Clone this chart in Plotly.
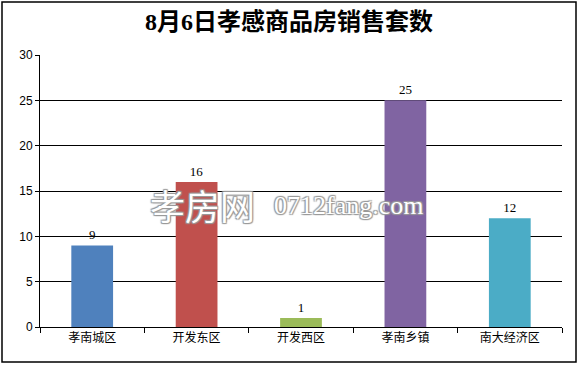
import plotly.graph_objects as go

categories = ["孝南城区", "开发东区", "开发西区", "孝南乡镇", "南大经济区"]
values = [9, 16, 1, 25, 12]
colors = ["#4F81BD", "#C0504D", "#9BBB59", "#8064A2", "#4BACC6"]
y_ticks = [0, 5, 10, 15, 20, 25, 30]

W, H = 578, 365
L, R, T, B = 40, 16, 55, 38
pw, ph = W - L - R, H - T - B

def px2x(px):
    return (px - L) / pw

def py2y(py):
    return (H - B - py) / ph

fig = go.Figure(go.Bar(
    x=categories, y=values, marker=dict(color=colors, line=dict(width=0)),
    text=[str(v) for v in values], textposition="outside", cliponaxis=False,
    textfont=dict(family="Liberation Serif, Times New Roman, serif", size=13, color="black"),
    width=0.4,
))

fig.update_layout(
    width=W, height=H, margin=dict(l=L, r=R, t=T, b=B),
    paper_bgcolor="white", plot_bgcolor="white", showlegend=False,
    title=dict(text="<b>8月6日孝感商品房销售套数</b>", x=0.5, xanchor="center", y=1 - 22 / H, yanchor="middle",
               font=dict(family="Liberation Serif, Noto Sans CJK SC, serif", size=24, color="black")),
    xaxis=dict(type="category", tickson="boundaries", ticks="outside", ticklen=5, tickcolor="black",
               showline=True, linecolor="black", linewidth=1, showgrid=False,
               tickfont=dict(family="Noto Sans CJK SC, sans-serif", size=12, color="black")),
    yaxis=dict(range=[0, 30], tickvals=y_ticks, ticks="outside", ticklen=4, tickcolor="black",
               showline=True, linecolor="black", linewidth=1, showgrid=True, gridcolor="black", gridwidth=1,
               zeroline=False,
               tickfont=dict(family="Liberation Sans, Arial, sans-serif", size=12, color="black")),
    bargap=0.6,
)

fig.add_shape(type="rect", xref="paper", yref="paper",
              x0=px2x(2), x1=px2x(576), y0=py2y(362), y1=py2y(2),
              line=dict(color="black", width=1.5), layer="below")

shadow = "1px 1px 1px #999, -1px -1px 1px #999, 1px -1px 1px #999, -1px 1px 1px #999"
fig.add_annotation(text="孝房网", xref="paper", yref="paper", x=px2x(148), y=py2y(204),
                   xanchor="left", yanchor="middle", showarrow=False,
                   font=dict(family="Noto Sans CJK SC, sans-serif", size=35, color="white", shadow=shadow))
fig.add_annotation(text="0712fang.com", xref="paper", yref="paper", x=px2x(272), y=py2y(205),
                   xanchor="left", yanchor="middle", showarrow=False,
                   font=dict(family="Liberation Serif, serif", size=26, color="white", shadow=shadow))

fig.write_html("out.html")
